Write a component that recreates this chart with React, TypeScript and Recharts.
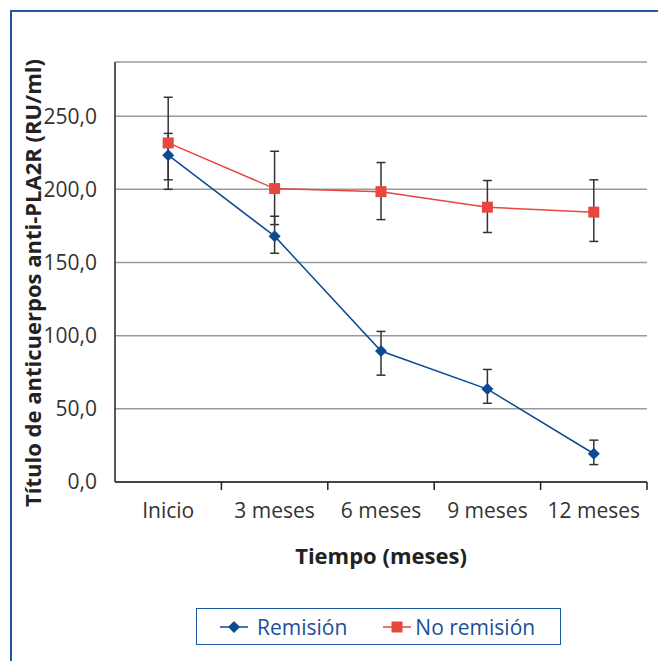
import { LineChart, Line, XAxis, YAxis, CartesianGrid, ErrorBar, Legend, Label } from 'recharts'

const categorias = ['Inicio', '3 meses', '6 meses', '9 meses', '12 meses']
const remision = [223.3, 168.0, 89.5, 63.5, 19.3]
const remisionError = [[16.8, 14.9], [11.7, 13.6], [16.5, 13.4], [9.7, 13.4], [7.4, 9.3]]
const noRemision = [231.7, 200.5, 198.4, 187.8, 184.4]
const noRemisionError = [[31.7, 31.2], [24.6, 25.5], [19.1, 19.9], [17.3, 18.2], [20.0, 22.1]]
const ticksY = [0, 50, 100, 150, 200, 250]

const AZUL = '#0d4a93'
const ROJO = '#e8473f'
const MARCO = '#1d58a3'
const FUENTE = '"Open Sans", "Noto Sans", sans-serif'

const datos = categorias.map((c, i) => ({
  tiempo: c,
  remision: remision[i],
  remisionErr: remisionError[i],
  noRemision: noRemision[i],
  noRemisionErr: noRemisionError[i],
}))

const series = [
  { key: 'remision', nombre: 'Remisión', color: AZUL, forma: 'rombo' },
  { key: 'noRemision', nombre: 'No remisión', color: ROJO, forma: 'cuadrado' },
]

function Marcador({ cx, cy, forma, color }: any) {
  if (cx == null || cy == null) return null
  if (forma === 'rombo') {
    return <polygon points={`${cx},${cy - 6} ${cx + 6},${cy} ${cx},${cy + 6} ${cx - 6},${cy}`} fill={color} />
  }
  return <rect x={cx - 5.5} y={cy - 5.5} width={11} height={11} fill={color} />
}

function TickX(props: any) {
  const { x, y, payload } = props
  const mitad = payload.offset || 53.2
  return (
    <g>
      <line x1={x + mitad} y1={y} x2={x + mitad} y2={y + 8} stroke="#222" strokeWidth={1.5} />
      <text x={x} y={y + 36} textAnchor="middle" fill="#333" fontSize={21} fontFamily={FUENTE}>
        {payload.value}
      </text>
    </g>
  )
}

function TituloY({ viewBox }: any) {
  const cx = viewBox.x + 32
  const cy = viewBox.y + viewBox.height / 2 + 11
  return (
    <text
      x={cx}
      y={cy}
      transform={`rotate(-90 ${cx} ${cy})`}
      textAnchor="middle"
      dominantBaseline="central"
      fill="#222"
      fontSize={22}
      fontWeight="bold"
      fontFamily={FUENTE}
    >
      Título de anticuerpos anti-PLA2R (RU/ml)
    </text>
  )
}

function Leyenda() {
  return (
    <div
      style={{
        display: 'flex',
        alignItems: 'center',
        width: 365,
        height: 37,
        boxSizing: 'border-box',
        border: `1.5px solid ${MARCO}`,
        paddingLeft: 23,
        fontFamily: FUENTE,
        fontSize: 21,
        color: '#1a4f99',
        background: '#fff',
      }}
    >
      {series.map((s, i) => (
        <div key={s.key} style={{ display: 'flex', alignItems: 'center', marginRight: i === 0 ? 36 : 0 }}>
          <svg width={28} height={14} style={{ marginRight: i === 0 ? 9 : 4 }}>
            <line x1={0} y1={7} x2={28} y2={7} stroke={s.color} strokeWidth={1.5} />
            <Marcador cx={14} cy={7} forma={s.forma} color={s.color} />
          </svg>
          <span>{s.nombre}</span>
        </div>
      ))}
    </div>
  )
}

export default function App() {
  return (
    <div style={{ position: 'absolute', left: 0, top: 0, width: 658, height: 661, background: '#fff' }}>
      <div
        style={{
          position: 'absolute',
          left: 10,
          top: 10,
          right: 0,
          bottom: 0,
          borderLeft: `2px solid ${MARCO}`,
          borderTop: `2px solid ${MARCO}`,
        }}
      />
      <LineChart
        width={658}
        height={661}
        data={datos}
        margin={{ top: 62, right: 11, left: 0, bottom: 0 }}
        style={{ position: 'absolute', left: 0, top: 0 }}
      >
        <CartesianGrid vertical={false} stroke="#9a9a9a" strokeWidth={1.5} />
        <XAxis
          dataKey="tiempo"
          scale="band"
          height={179}
          tickSize={0}
          tickMargin={0}
          tickLine={false}
          axisLine={{ stroke: '#222', strokeWidth: 1.5 }}
          tick={<TickX />}
          interval={0}
        >
          <Label
            value="Tiempo (meses)"
            position="insideTop"
            offset={66}
            fill="#222"
            fontSize={22}
            fontWeight="bold"
            fontFamily={FUENTE}
          />
        </XAxis>
        <YAxis
          width={115}
          domain={[0, 287]}
          ticks={ticksY}
          tickFormatter={(v: number) => v.toFixed(1).replace('.', ',')}
          tickLine={false}
          tickSize={0}
          tickMargin={18}
          axisLine={{ stroke: '#222', strokeWidth: 1.5 }}
          tick={{ fill: '#333', fontSize: 21, fontFamily: FUENTE }}
          allowDataOverflow
        >
          <Label content={<TituloY />} />
        </YAxis>
        <Legend
          layout="horizontal"
          verticalAlign="middle"
          content={<Leyenda />}
          wrapperStyle={{ position: 'absolute', top: 608, left: 196, width: 365, height: 37 }}
        />
        {series.map((s) => (
          <Line
            key={s.key}
            dataKey={s.key}
            name={s.nombre}
            stroke={s.color}
            strokeWidth={1.5}
            isAnimationActive={false}
            dot={(p: any) => <Marcador key={`${s.key}-${p.index}`} cx={p.cx} cy={p.cy} forma={s.forma} color={s.color} />}
            activeDot={false}
          >
            <ErrorBar dataKey={`${s.key}Err`} direction="y" width={4.5} stroke="#333" strokeWidth={1.5} />
          </Line>
        ))}
      </LineChart>
    </div>
  )
}
